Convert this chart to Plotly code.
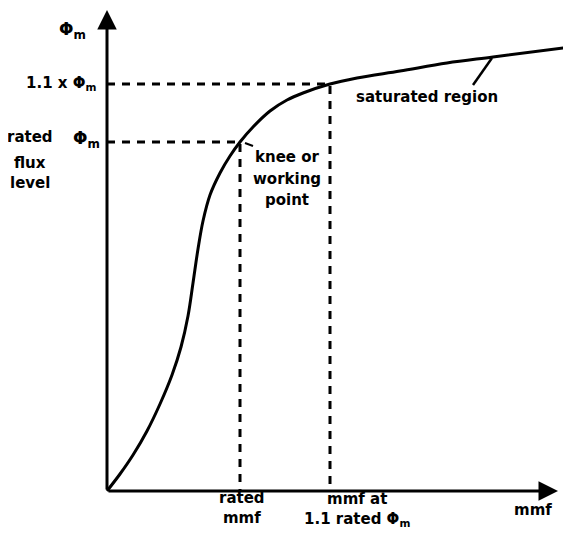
import plotly.graph_objects as go

# magnetisation curve (arbitrary units)
mmf = [0.0, 0.13, 0.26, 0.40, 0.53, 0.65, 0.74, 0.81, 0.86, 0.91, 0.96, 1.03, 1.13,
       1.23, 1.33, 1.46, 1.63, 1.80, 1.96, 2.23, 2.50, 2.93, 3.40, 3.86, 4.63]
flux = [0.0, 0.17, 0.36, 0.60, 0.87, 1.16, 1.44, 1.75, 2.08, 2.42, 2.70, 2.96, 3.18,
        3.35, 3.49, 3.64, 3.80, 3.91, 3.98, 4.07, 4.13, 4.20, 4.28, 4.34, 4.44]

rated_mmf, rated_flux = 1.33, 3.49
sat_mmf, sat_flux = 2.23, 4.07
x_end, y_end = 4.51, 4.81

FONT = dict(family="DejaVu Sans", size=15, color="black", weight="bold")
PHI_FONT = dict(family="DejaVu Sans", size=17, color="black", weight="bold")

fig = go.Figure()
fig.add_trace(go.Scatter(x=mmf, y=flux, mode="lines",
                         line=dict(color="black", width=3, shape="spline", smoothing=1),
                         hoverinfo="skip", showlegend=False))

# dashed guide lines
for xm, yf in [(rated_mmf, rated_flux), (sat_mmf, sat_flux)]:
    fig.add_trace(go.Scatter(x=[0, xm, xm], y=[yf, yf, 0], mode="lines",
                             line=dict(color="black", width=3, dash="8px,7px"),
                             hoverinfo="skip", showlegend=False))

# axes drawn as arrows
for x, y in [(x_end, 0), (0, y_end)]:
    fig.add_annotation(x=x, y=y, ax=0, ay=0, xref="x", yref="y", axref="x", ayref="y",
                       text="", showarrow=True, arrowhead=2, arrowsize=1.3,
                       arrowwidth=3, arrowcolor="black", standoff=0)

# leader lines
fig.add_shape(type="line", x0=3.85, y0=4.33, x1=3.66, y1=4.06,
              line=dict(color="black", width=2.5))
fig.add_shape(type="line", x0=1.38, y0=3.48, x1=1.46, y1=3.45,
              line=dict(color="black", width=2))

labels = [
    ("1.1 x Φ<sub>m</sub>", -0.09, 4.08, "right"),
    ("rated", -0.77, 3.54, "center"),
    ("flux", -0.77, 3.28, "center"),
    ("level", -0.77, 3.08, "center"),
    ("knee or", 1.80, 3.34, "center"),
    ("working", 1.80, 3.12, "center"),
    ("point", 1.80, 2.91, "center"),
    ("saturated region", 3.20, 3.94, "center"),
    ("rated<br>mmf", 1.35, -0.17, "center"),
    ("mmf at<br>1.1 rated Φ<sub>m</sub>", 1.95, -0.18, "left"),
    ("mmf", 4.26, -0.19, "center"),
]
for txt, x, y, anchor in labels:
    fig.add_annotation(x=x, y=y, text=txt, showarrow=False, xanchor=anchor,
                       yanchor="middle", font=FONT)

for x, y, anchor in [(-0.35, 4.61, "center"), (-0.05, 3.52, "right")]:
    fig.add_annotation(x=x, y=y, text="Φ<sub>m</sub>", showarrow=False,
                       xanchor=anchor, yanchor="middle", font=PHI_FONT)

# page body has an 8px margin, so the figure is 8px smaller than the window
fig.update_xaxes(range=[-0.99, 4.64], visible=False, fixedrange=True)
fig.update_yaxes(range=[-0.52, 4.83], visible=False, fixedrange=True)
fig.update_layout(width=563, height=535, margin=dict(l=0, r=0, t=0, b=0),
                  plot_bgcolor="white", paper_bgcolor="white")

fig.write_html("out.html")
